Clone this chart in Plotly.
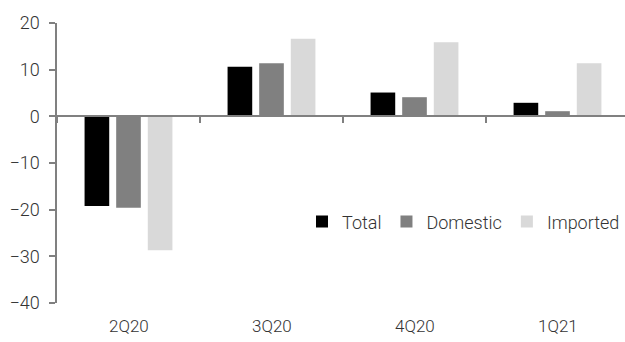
import plotly.graph_objects as go

quarters = ["2Q20", "3Q20", "4Q20", "1Q21"]
total = [-19.2, 10.6, 5.1, 2.9]
domestic = [-19.6, 11.4, 4.1, 1.1]
imported = [-28.7, 16.6, 15.9, 11.4]

y_min, y_max = -40, 20
y_ticks = [-40, -30, -20, -10, 0, 10, 20]

FONT = "Roboto"
TEXT = "#333333"
AXIS = "#808080"

fig = go.Figure()
for name, vals, color in [("Total", total, "#000000"),
                          ("Domestic", domestic, "#808080"),
                          ("Imported", imported, "#d9d9d9")]:
    fig.add_trace(go.Bar(x=quarters, y=vals, name=name,
                         marker=dict(color=color, line=dict(width=0))))

# category axis line sits on y = 0, tick marks on category boundaries
zero_pos = (0 - y_min) / (y_max - y_min)
fig.update_xaxes(
    type="category", categoryarray=quarters, range=[-0.5, 3.472],
    anchor="free", position=zero_pos,
    showline=True, linecolor=AXIS, linewidth=1.5,
    ticks="outside", tickson="boundaries", ticklen=6, tickwidth=1.5, tickcolor=AXIS,
    showticklabels=False, showgrid=False, zeroline=False,
)
fig.update_yaxes(
    range=[y_min, y_max], tickvals=y_ticks,
    showline=True, linecolor=AXIS, linewidth=1.5,
    ticks="outside", ticklen=6, tickwidth=1.5, tickcolor=AXIS,
    showgrid=False, zeroline=False,
    tickfont=dict(family=FONT, size=18, color=TEXT, weight=300),
    ticklabelstandoff=6,
)

# quarter labels along the bottom of the plot
for q in quarters:
    fig.add_annotation(x=q, xref="x", y=0, yref="paper", yanchor="top",
                       yshift=-11, showarrow=False, text=q,
                       font=dict(family=FONT, size=17, color=TEXT, weight=300))

fig.update_layout(
    width=625, height=342,
    margin=dict(l=57, r=0, t=23, b=38.5),
    paper_bgcolor="white", plot_bgcolor="white",
    barmode="group", bargap=0.337, bargroupgap=0.22,
    legend=dict(orientation="h", x=1.0, xanchor="right", y=0.29, yanchor="middle",
                font=dict(family=FONT, size=18, color=TEXT, weight=300),
                bgcolor="rgba(0,0,0,0)", itemclick=False),
)

fig.write_html("out.html")
